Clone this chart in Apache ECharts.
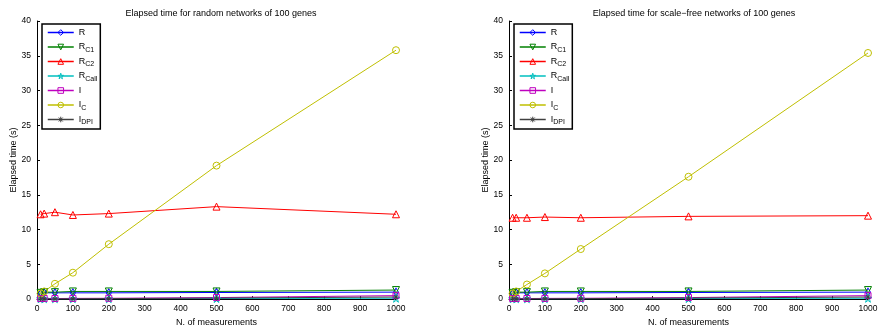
<!DOCTYPE html>
<html>
<head>
<meta charset="utf-8">
<script src="https://cdn.jsdelivr.net/npm/echarts@6/dist/echarts.min.js"></script>
<style>
  html, body { margin: 0; padding: 0; background: #fff; }
  #chart { width: 881px; height: 332px; }
</style>
</head>
<body>
<div id="chart"></div>
<script>
// x values (number of measurements)
var measurements = [10, 20, 50, 100, 200, 500, 1000]
var seriesNames = ['R', 'R_C1', 'R_C2', 'R_Call', 'I', 'I_C', 'I_DPI']
var titles = ['Elapsed time for random networks of 100 genes', 'Elapsed time for scale\u2212free networks of 100 genes']

// random networks
var randR = [0.8, 0.9, 0.9, 0.9, 0.9, 0.95, 1.0]
var randRC1 = [0.9, 1.0, 1.0, 1.1, 1.1, 1.1, 1.3]
var randRC2 = [12.2, 12.3, 12.5, 12.1, 12.3, 13.3, 12.2]
var randRCall = [0.05, 0.05, 0.05, 0.05, 0.05, 0.08, 0.12]
var randI = [0.08, 0.08, 0.08, 0.1, 0.12, 0.22, 0.5]
var randIC = [0.8, 1.1, 2.2, 3.8, 7.9, 19.2, 35.8]
var randIDPI = [0.03, 0.03, 0.04, 0.05, 0.07, 0.15, 0.3]

// scale-free networks
var sfR = [0.8, 0.9, 0.9, 0.9, 0.9, 0.95, 1.0]
var sfRC1 = [0.9, 1.0, 1.0, 1.1, 1.1, 1.1, 1.3]
var sfRC2 = [11.7, 11.7, 11.7, 11.8, 11.7, 11.9, 12.0]
var sfRCall = [0.05, 0.05, 0.05, 0.05, 0.05, 0.08, 0.12]
var sfI = [0.08, 0.08, 0.08, 0.1, 0.12, 0.22, 0.5]
var sfIC = [0.8, 1.1, 2.1, 3.7, 7.2, 17.6, 35.4]
var sfIDPI = [0.03, 0.03, 0.04, 0.05, 0.07, 0.15, 0.3]

var chart = echarts.init(document.getElementById('chart'))

var starPath = 'path://M50,0 L61,35 L98,35 L68,57 L79,91 L50,70 L21,91 L32,57 L2,35 L39,35 Z'
var asteriskPath = 'path://M0,5 L10,5 M5,0 L5,10 M1.5,1.5 L8.5,8.5 M8.5,1.5 L1.5,8.5'
var styles = {
  'R': { color: '#0000ff', symbol: 'diamond', size: [5, 8], rotate: 0 },
  'R_C1': { color: '#008000', symbol: 'triangle', size: 7, rotate: 180 },
  'R_C2': { color: '#ff0000', symbol: 'triangle', size: 7, rotate: 0 },
  'R_Call': { color: '#00bfbf', symbol: starPath, size: 8, rotate: 0 },
  'I': { color: '#bf00bf', symbol: 'rect', size: 6, rotate: 0 },
  'I_C': { color: '#bfbf00', symbol: 'circle', size: 7, rotate: 0 },
  'I_DPI': { color: '#404040', symbol: asteriskPath, size: 5, rotate: 0 }
}
var legendText = {
  'R': '{m|R}',
  'R_C1': '{m|R}{s|C1}',
  'R_C2': '{m|R}{s|C2}',
  'R_Call': '{m|R}{s|Call}',
  'I': '{m|I}',
  'I_C': '{m|I}{s|C}',
  'I_DPI': '{m|I}{s|DPI}'
}

function toPairs(arr) {
  var out = []
  for (var i = 0; i < arr.length; i++) out.push([measurements[i], arr[i]])
  return out
}

var panels = [
  [randR, randRC1, randRC2, randRCall, randI, randIC, randIDPI],
  [sfR, sfRC1, sfRC2, sfRCall, sfI, sfIC, sfIDPI]
]
var gridLeft = [37, 509]
var gridRight = [485, 13]
var centers = [216, 689]

var series = []
var grids = []
var xAxes = []
var yAxes = []
var legends = []
var titleList = []
var font = 'Liberation Sans, Arial, sans-serif'

for (var p = 0; p < 2; p++) {
  grids.push({ left: gridLeft[p], right: gridRight[p], top: 21, bottom: 29 })
  titleList.push({
    text: titles[p], left: centers[p], top: 4, textAlign: 'center',
    textStyle: { fontSize: 9, fontWeight: 'normal', color: '#000', fontFamily: font }
  })
  xAxes.push({
    type: 'value', gridIndex: p, min: 0, max: 1000, interval: 100,
    name: 'N. of measurements', nameLocation: 'middle', nameGap: 14,
    nameTextStyle: { fontSize: 9, color: '#000', fontFamily: font },
    axisLine: { lineStyle: { color: '#000', width: 1 } },
    axisTick: { inside: true, length: 3, lineStyle: { color: '#000' } },
    axisLabel: {
      fontSize: 8.5, color: '#000', margin: 5, fontFamily: font,
      formatter: function(v) { return String(v) }
    },
    splitLine: { show: false }
  })
  yAxes.push({
    type: 'value', gridIndex: p, min: 0, max: 40, interval: 5,
    name: 'Elapsed time (s)', nameLocation: 'middle', nameGap: 13,
    nameTextStyle: { fontSize: 9, color: '#000', fontFamily: font },
    axisLine: { show: true, lineStyle: { color: '#000', width: 1 } },
    axisTick: { show: true, inside: true, length: 3, lineStyle: { color: '#000' } },
    axisLabel: { fontSize: 8.5, color: '#000', margin: 6, fontFamily: font },
    splitLine: { show: false }
  })
  legends.push({
    orient: 'vertical', left: gridLeft[p] + 5, top: 24,
    padding: [2, 3, 3, 5], itemGap: 1.5, itemWidth: 26, itemHeight: 7,
    backgroundColor: '#fff', borderColor: '#000', borderWidth: 1.5,
    itemStyle: { color: 'rgba(255,255,255,0)', borderWidth: 1 },
    lineStyle: { width: 1.5 },
    data: seriesNames,
    formatter: function(name) { return legendText[name] },
    textStyle: {
      color: '#000', fontFamily: font,
      rich: {
        m: { fontSize: 9, color: '#000', fontFamily: font, lineHeight: 10, padding: [2, 0, 2, 0] },
        s: { fontSize: 7, color: '#000', fontFamily: font, lineHeight: 8, padding: [6, 0, 0, 0] }
      }
    }
  })
  for (var k = 0; k < seriesNames.length; k++) {
    var st = styles[seriesNames[k]]
    series.push({
      name: seriesNames[k], type: 'line', xAxisIndex: p, yAxisIndex: p,
      data: toPairs(panels[p][k]),
      symbol: st.symbol, symbolSize: st.size, symbolRotate: st.rotate,
      showAllSymbol: true,
      lineStyle: { color: st.color, width: 1 },
      itemStyle: { color: 'rgba(255,255,255,0)', borderColor: st.color, borderWidth: 1 },
      emphasis: { disabled: true },
      animation: false
    })
  }
}

var option = {
  animation: false,
  title: titleList,
  grid: grids,
  xAxis: xAxes,
  yAxis: yAxes,
  legend: legends,
  series: series
}
chart.setOption(option)
window.addEventListener('resize', function() {
  chart.resize()
})
</script>
</body>
</html>
